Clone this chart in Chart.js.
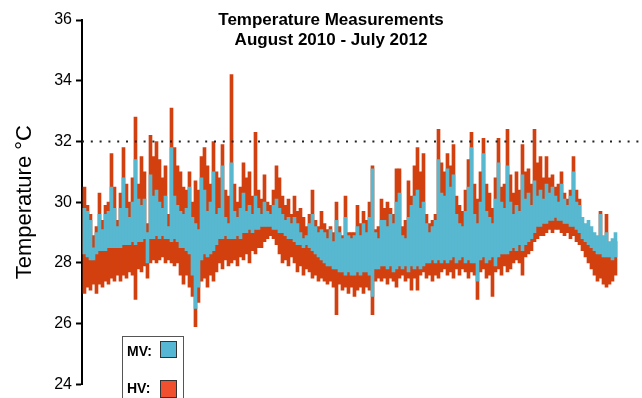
<!DOCTYPE html>
<html>
<head>
<meta charset="utf-8">
<script src="https://cdn.jsdelivr.net/npm/chart.js@4/dist/chart.umd.min.js"></script>
<style>
html,body{margin:0;padding:0;background:#fff;}
#wrap{position:relative;width:642px;height:398px;}
</style>
</head>
<body>
<div id="wrap"><canvas id="c" width="642" height="398"></canvas></div>
<script>
// ---- data (one entry per short time bin, Aug 2010 .. Jul 2012) ----
const titleLines = ["Temperature Measurements", "August 2010 - July 2012"];
const yTitle = "Temperature \u00B0C";
const yTicks = [24, 26, 28, 30, 32, 34, 36];
const threshold = 32;
const seriesNames = ["MV", "HV"];

const mvHigh = [
 29.8,29.7,29.4,28.5,29.0,29.6,29.1,29.6,29.7,30.5,
 29.8,29.2,29.8,30.8,29.8,29.5,30.0,31.4,30.1,29.9,
 30.1,29.0,30.9,30.2,30.4,30.0,29.8,30.2,29.2,31.8,
 30.2,29.9,29.7,29.6,29.8,30.5,29.5,29.3,29.1,30.8,
 30.4,29.7,30.0,31.0,29.6,29.8,31.2,29.5,29.3,31.3,
 29.7,29.5,29.8,30.3,29.7,29.9,29.6,30.2,29.8,29.6,
 30.0,29.7,29.6,29.9,30.1,29.8,29.6,29.4,29.5,29.3,
 29.5,29.3,29.0,28.8,28.9,29.3,29.6,29.2,29.0,29.1,
 29.0,28.8,29.1,28.7,29.4,29.0,28.8,29.5,28.9,28.8,
 28.9,29.2,28.9,29.3,29.0,29.5,31.1,29.0,28.8,29.4,
 29.4,29.2,29.6,29.3,30.0,30.3,28.9,28.8,29.5,29.9,
 30.2,30.4,29.8,30.0,29.3,29.0,29.2,29.4,31.4,30.3,
 30.2,31.1,30.5,30.9,29.6,29.3,29.2,29.7,30.5,31.8,
 29.6,29.3,30.0,31.6,29.7,29.5,29.3,30.1,31.3,30.0,
 29.8,31.2,30.0,29.6,29.9,29.7,30.9,30.1,30.3,29.9,
 30.7,30.2,30.4,30.1,30.6,30.3,30.5,30.2,30.0,30.6,
 30.1,29.9,30.2,31.0,30.0,29.9,29.5,29.3,29.4,29.2,
 29.0,28.9,29.6,28.9,29.0,28.7,28.8,29.0
];
const mvLow = [
 28.3,28.2,28.1,28.1,28.3,28.4,28.4,28.4,28.5,28.5,
 28.5,28.5,28.5,28.6,28.6,28.6,28.7,28.6,28.7,28.7,
 28.8,28.0,28.8,28.8,28.9,28.8,28.9,28.8,28.8,28.7,
 28.8,28.7,28.5,28.5,28.4,28.3,27.6,26.5,27.2,28.1,
 28.3,28.2,28.3,28.4,28.6,28.8,28.8,28.9,28.8,28.8,
 28.8,28.9,28.8,29.0,29.0,29.1,29.0,29.1,29.1,29.2,
 29.2,29.2,29.2,29.1,29.1,29.0,29.0,28.9,28.8,28.8,
 28.7,28.6,28.6,28.5,28.6,28.5,28.4,28.3,28.2,28.1,
 28.0,27.9,27.9,27.8,27.8,27.7,27.7,27.6,27.7,27.6,
 27.6,27.7,27.6,27.7,27.7,27.6,26.9,27.8,27.8,27.9,
 27.9,27.8,27.9,27.7,27.8,27.9,27.8,27.9,27.7,27.9,
 27.8,27.9,27.8,27.9,28.0,28.0,28.1,28.0,28.1,28.0,
 28.1,28.0,28.1,28.2,28.0,28.1,28.2,28.0,28.1,28.0,
 28.0,27.4,28.1,28.2,28.0,28.1,28.2,27.9,28.2,28.3,
 28.3,28.3,28.4,28.5,28.4,28.6,28.4,28.6,28.7,28.8,
 29.0,29.2,29.2,29.3,29.3,29.4,29.4,29.5,29.4,29.4,
 29.3,29.3,29.2,29.2,29.1,29.0,28.8,28.7,28.6,28.5,
 28.4,28.3,28.3,28.2,28.2,28.2,28.1,28.2
];
const hvHigh = [
 30.5,29.9,29.6,28.9,29.2,30.3,29.4,29.9,30.0,31.6,
 30.5,29.4,30.3,31.8,30.6,30.0,30.8,32.8,30.6,31.5,
 31.0,29.3,32.2,31.5,32.0,31.4,30.8,31.2,29.6,33.1,
 31.8,31.2,31.0,30.5,30.4,31.0,30.0,30.7,30.4,31.5,
 31.8,31.2,30.6,32.0,31.0,30.8,31.9,30.4,30.2,34.2,
 30.6,30.0,30.5,31.3,30.8,31.0,30.2,32.3,30.4,30.1,
 30.9,30.0,29.9,30.4,31.2,30.8,30.2,29.9,30.1,29.6,
 30.2,29.7,29.8,29.5,29.2,29.6,30.4,29.4,29.2,29.7,
 29.3,29.1,29.2,29.0,30.0,29.2,28.9,30.2,29.0,29.0,
 29.0,29.9,29.3,29.7,29.4,30.0,31.2,29.1,29.2,30.1,
 29.8,30.0,29.8,29.6,31.1,31.1,29.2,29.4,30.7,30.2,
 31.2,31.8,31.0,31.6,29.6,29.3,29.4,29.6,32.4,31.3,
 31.0,31.6,31.2,31.9,30.2,29.9,29.7,30.4,31.4,32.3,
 30.6,30.1,31.0,32.1,30.6,30.3,29.8,30.8,32.1,30.5,
 30.6,32.4,30.9,30.3,31.0,30.4,31.9,31.0,31.1,30.6,
 32.4,31.3,31.5,30.8,31.5,30.8,30.9,30.5,30.6,31.0,
 30.3,30.1,30.4,31.5,30.4,30.1,29.3,29.1,29.2,29.0,
 28.8,28.7,29.7,28.6,29.6,28.5,28.6,28.7
];
const hvLow = [
 27.0,27.2,27.1,27.3,27.0,27.3,27.2,27.4,27.3,27.5,
 27.4,27.6,27.4,27.6,27.5,27.7,27.6,26.8,27.8,27.7,
 27.9,27.5,28.0,28.1,28.0,28.1,28.2,28.0,28.1,28.0,
 27.9,28.0,27.6,27.3,27.6,27.2,26.9,25.9,26.7,27.4,
 27.5,27.2,27.6,27.4,27.7,28.0,27.8,28.1,27.9,28.0,
 28.1,27.9,28.2,28.1,28.3,28.0,28.4,28.3,28.5,28.5,
 28.7,28.8,28.9,28.8,28.6,28.3,28.0,28.1,27.9,28.2,
 28.0,27.7,27.9,27.6,27.8,27.7,27.5,27.6,27.4,27.5,
 27.4,27.3,27.4,27.2,26.3,27.3,27.1,27.2,27.0,27.2,
 26.9,27.1,27.2,27.0,27.2,27.1,26.3,27.4,27.5,27.4,
 27.5,27.3,27.5,27.4,27.2,27.5,27.6,27.4,27.5,27.1,
 27.5,27.1,27.6,27.7,27.5,27.6,27.4,27.6,27.5,27.7,
 27.8,27.6,27.7,27.5,27.8,27.6,27.8,27.7,27.5,27.7,
 27.6,26.8,27.7,27.8,27.5,27.6,26.9,27.7,27.8,27.6,
 27.9,27.7,27.8,28.0,28.1,28.0,27.6,28.2,28.3,28.4,
 28.7,28.8,28.9,28.9,29.0,29.1,29.0,29.1,29.1,29.0,
 28.9,29.0,28.8,28.9,28.7,28.6,28.4,28.2,28.0,27.8,
 27.6,27.4,27.5,27.3,27.2,27.3,27.4,27.6
];

// ---- floating bars: one [low, high] range per time bin ----
function ranges(lo, hi) {
  return lo.map((v, i) => ({x: i, y: [v, hi[i]]}));
}
const X_MIN = -0.83, X_MAX = 185.17;

const MV_COLOR = '#58B8D0';
const HV_COLOR = '#D3400F';
const MV_SWATCH = '#56B7D4';
const HV_SWATCH = '#F1502E';

const overlay = {
  id: 'overlay',
  afterDraw(chart) {
    const ctx = chart.ctx;
    ctx.save();
    ctx.fillStyle = '#000';
    ctx.textAlign = 'center';
    ctx.textBaseline = 'alphabetic';
    ctx.font = 'bold 17px "Liberation Sans", Arial, Helvetica, sans-serif';
    ctx.fillText(titleLines[0], 331, 25);
    ctx.fillText(titleLines[1], 331, 45);
    // legend box
    ctx.strokeStyle = '#555';
    ctx.lineWidth = 1;
    ctx.fillStyle = '#fff';
    ctx.fillRect(122, 336, 61, 70);
    ctx.strokeRect(122.5, 336.5, 61, 70);
    ctx.font = 'bold 14px "Liberation Sans", Arial, Helvetica, sans-serif';
    ctx.textAlign = 'left';
    ctx.textBaseline = 'middle';
    ctx.fillStyle = '#000';
    ctx.fillText(seriesNames[0] + ':', 127, 352);
    ctx.fillText(seriesNames[1] + ':', 127, 389);
    ctx.strokeStyle = '#333';
    ctx.fillStyle = MV_SWATCH;
    ctx.fillRect(160, 341, 17, 16);
    ctx.strokeRect(160.5, 341.5, 16, 16);
    ctx.fillStyle = HV_SWATCH;
    ctx.fillRect(160, 380, 17, 17);
    ctx.strokeRect(160.5, 380.5, 16, 17);
    ctx.restore();
  }
};

new Chart(document.getElementById('c'), {
  type: 'bar',
  data: {
    datasets: [
      {
        type: 'line',
        label: 'threshold',
        data: [{x: X_MIN, y: threshold}, {x: X_MAX, y: threshold}],
        borderColor: '#222',
        borderWidth: 2,
        borderDash: [2, 6.8],
        pointRadius: 0,
        order: 0
      },
      {
        label: seriesNames[0],
        data: ranges(mvLow, mvHigh),
        backgroundColor: MV_COLOR,
        borderWidth: 0,
        barPercentage: 1,
        categoryPercentage: 1,
        grouped: false,
        order: 1
      },
      {
        label: seriesNames[1],
        data: ranges(hvLow, hvHigh),
        backgroundColor: HV_COLOR,
        borderWidth: 0,
        barPercentage: 1,
        categoryPercentage: 1,
        grouped: false,
        order: 2
      }
    ]
  },
  options: {
    responsive: false,
    animation: false,
    devicePixelRatio: 1,
    parsing: {xAxisKey: 'x', yAxisKey: 'y'},
    layout: {padding: {top: 20, bottom: 10, left: 0, right: 2}},
    plugins: {legend: {display: false}, tooltip: {enabled: false}, title: {display: false}},
    scales: {
      x: {type: 'linear', min: X_MIN, max: X_MAX, offset: false, display: false},
      y: {
        min: 24, max: 36,
        afterBuildTicks(axis) { axis.ticks = yTicks.map(v => ({value: v})); },
        afterFit(axis) { axis.width = 82; },
        ticks: {
          color: '#000',
          padding: 4,
          font: {family: '"Liberation Sans", Arial, Helvetica, sans-serif', size: 16}
        },
        grid: {drawOnChartArea: false, drawTicks: true, tickLength: 6, tickWidth: 2, tickColor: '#000'},
        border: {display: true, color: '#000', width: 2},
        title: {
          display: true,
          text: yTitle,
          color: '#000',
          padding: {top: 12, bottom: 0},
          font: {family: '"Liberation Sans", Arial, Helvetica, sans-serif', size: 22, weight: 'normal'}
        }
      }
    }
  },
  plugins: [overlay]
});
</script>
</body>
</html>
